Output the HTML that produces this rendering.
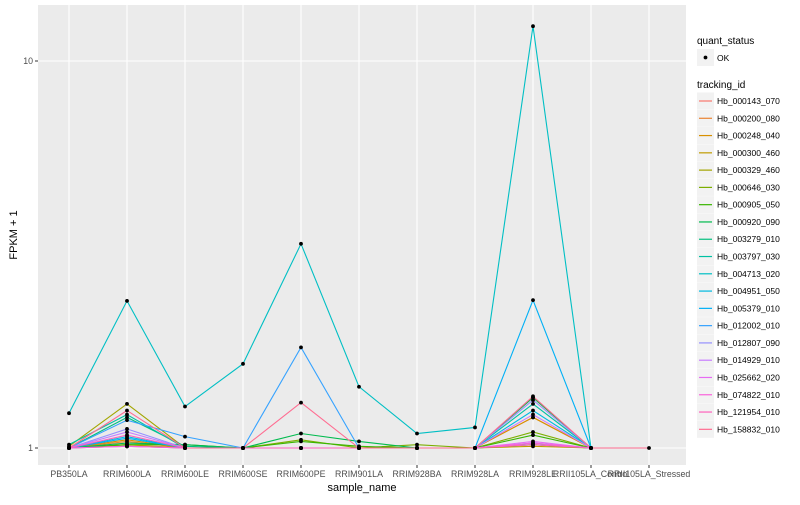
<!DOCTYPE html>
<html><head><meta charset="utf-8"><style>
body{margin:0;background:#fff;font-family:"Liberation Sans",sans-serif}
svg text{font-family:"Liberation Sans",sans-serif}
</style></head><body>
<svg id="chart" width="800" height="500" xmlns="http://www.w3.org/2000/svg">
<rect x="0" y="0" width="800" height="500" fill="#fff"/>
<rect x="38" y="5" width="648" height="460" fill="#EBEBEB"/>
<g id="grid"></g><g id="lines"></g><g id="points"></g><g id="axes"></g><g id="legend"></g>
<text x="362" y="491" font-size="11" text-anchor="middle">sample_name</text>
<text transform="translate(17,235) rotate(-90)" font-size="11" text-anchor="middle">FPKM + 1</text>
</svg>
<script>
const categories=["PB350LA","RRIM600LA","RRIM600LE","RRIM600SE","RRIM600PE","RRIM901LA","RRIM928BA","RRIM928LA","RRIM928LE","RRII105LA_Control","RRII105LA_Stressed"];
const seriesNames=["Hb_000143_070","Hb_000200_080","Hb_000248_040","Hb_000300_460","Hb_000329_460","Hb_000646_030","Hb_000905_050","Hb_000920_090","Hb_003279_010","Hb_003797_030","Hb_004713_020","Hb_004951_050","Hb_005379_010","Hb_012002_010","Hb_012807_090","Hb_014929_010","Hb_025662_020","Hb_074822_010","Hb_121954_010","Hb_158832_010"];
const seriesColors=["#F8766D","#EA8331","#D89000","#C09B00","#A3A500","#7CAE00","#39B600","#00BB4E","#00BF7D","#00C1A3","#00BFC4","#00BAE0","#00B0F6","#35A2FF","#9590FF","#C77CFF","#E76BF3","#FA62DB","#FF62BC","#FF6C91"];
const s01=[1,1.02,1,1,1,1,1,1,1.35,1,null];
const s02=[1,1.04,1,1,1,1,1,1,1.2,1,null];
const s03=[1,1.05,1,1,1,1,1,1,1.2,1,null];
const s04=[1,1.02,1,1,1,1,1,1,1.01,1,null];
const s05=[1.01,1.30,1,1,1,1,1,1,1.02,1,null];
const s06=[1,1.01,1,1,1.05,1,1.02,1,1.1,1,null];
const s07=[1,1.02,1.02,1,1.04,1.01,1,1,1.08,1,null];
const s08=[1,1.03,1.02,1,1.09,1.04,1,1,1.35,1,null];
const s09=[1,1.2,1.01,1,1,1,1,1,1.02,1,null];
const s10=[1.02,1.22,1,1,1,1,1,1,1.3,1,null];
const s11=[1.23,2.40,1.28,1.65,3.37,1.44,1.09,1.13,12.3,1,null];
const s12=[1,1.07,1,1,1,1,1,1,1.25,1,null];
const s13=[1,1.06,1,1,1,1,1,1,2.41,1,null];
const s14=[1,1.18,1.07,1,1.82,1,1,1,1.03,1,null];
const s15=[1,1.12,1,1,1,1,1,1,1.33,1,null];
const s16=[1,1.1,1,1,1,1,1,1,1.22,1,null];
const s17=[1,1.01,1,1,1,1,1,1,1.04,1,null];
const s18=[1,1.01,1,1,1,1,1,1,1.03,1,null];
const s19=[1,1.08,1,1,1,1,1,1,1.02,1,null];
const s20=[1,1.25,1,1,1.31,1,1,1,1.36,1,1];
const seriesValues=[s01,s02,s03,s04,s05,s06,s07,s08,s09,s10,s11,s12,s13,s14,s15,s16,s17,s18,s19,s20];
const yTicks=[1,10];
const yTickLabels=["1","10"];

const NS="http://www.w3.org/2000/svg";
function xScale(i){return 69+i*58;}
function yScale(v){return 448-387*Math.log10(v);}
function mk(tag,attrs,parent){const e=document.createElementNS(NS,tag);for(const k in attrs)e.setAttribute(k,attrs[k]);parent.appendChild(e);return e;}
const grid=document.getElementById('grid'),lines=document.getElementById('lines'),pts=document.getElementById('points'),axes=document.getElementById('axes'),leg=document.getElementById('legend');
yTicks.forEach((t,i)=>{
  const y=yScale(t);
  const g=mk('line',{x1:38,x2:686,y1:y,y2:y,stroke:'#fff','stroke-width':1.1},grid);
  
  
  mk('line',{x1:35,x2:38,y1:y,y2:y,stroke:'#333','stroke-width':1},axes);
  const tx=mk('text',{x:33,y:y+3,'font-size':8.8,'text-anchor':'end',fill:'#4D4D4D'},axes);
  tx.textContent=yTickLabels[i];
  
  
});
categories.forEach((c,i)=>{
  const x=xScale(i);
  const g=mk('line',{x1:x,x2:x,y1:5,y2:465,stroke:'#fff','stroke-width':1.1},grid);
  
  
  mk('line',{x1:x,x2:x,y1:465,y2:468,stroke:'#333','stroke-width':1},axes);
  const tx=mk('text',{x:x,y:477,'font-size':8.8,'text-anchor':'middle',fill:'#4D4D4D'},axes);
  tx.textContent=c;
  
  
});
seriesValues.forEach((vals,s)=>{
  let d='';let pen=false;
  vals.forEach((v,i)=>{if(v==null){pen=false;return;}d+=(pen?'L':'M')+xScale(i)+','+yScale(v);pen=true;});
  const p=mk('path',{d:d,fill:'none',stroke:seriesColors[s],'stroke-width':1.1},lines);
  
  
  vals.forEach((v,i)=>{if(v==null)return;
    const c=mk('circle',{cx:xScale(i),cy:yScale(v),r:1.9,fill:'#000'},pts);
    
    
  });
});
let t=mk('text',{x:697,y:44,'font-size':10},leg);t.textContent='quant_status';


mk('rect',{x:697,y:49,width:17,height:17,fill:'#F2F2F2'},leg);
mk('circle',{cx:705.5,cy:57.5,r:1.9,fill:'#000'},leg);
t=mk('text',{x:717,y:61,'font-size':8.5},leg);t.textContent='OK';


t=mk('text',{x:697,y:88,'font-size':10},leg);t.textContent='tracking_id';


seriesNames.forEach((n,i)=>{
  const y=92.5+i*17.28;
  mk('rect',{x:697,y:y,width:17,height:17,fill:'#F2F2F2'},leg);
  mk('line',{x1:699,x2:712,y1:y+8.5,y2:y+8.5,stroke:seriesColors[i],'stroke-width':1.2},leg);
  const tx=mk('text',{x:717,y:y+11.5,'font-size':8.5},leg);
  tx.textContent=n;
  
  
});
</script>
</body></html>
